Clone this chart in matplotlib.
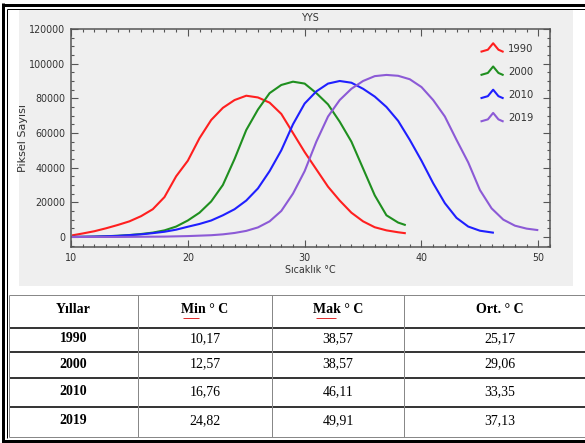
import matplotlib
matplotlib.use('Agg')
import matplotlib.pyplot as plt
from matplotlib.lines import Line2D
from matplotlib.patches import Rectangle
from matplotlib.legend_handler import HandlerBase
from matplotlib.ticker import MultipleLocator
from matplotlib import font_manager

# curves (temperature in C, pixel count)
t_1990 = [10.17, 11, 12, 13, 14, 15, 16, 17, 18, 19, 20, 21, 22, 23, 24, 25, 26, 27, 28, 29,
          30, 31, 32, 33, 34, 35, 36, 37, 38, 38.57]
v_1990 = [1000, 2000, 3300, 5000, 6900, 9000, 12000, 16000, 23000, 35000, 44000, 57000, 67500,
          74500, 79000, 81500, 80500, 77500, 71000, 60000, 49000, 39000, 29000, 21000, 14000,
          9000, 5600, 3800, 2700, 2200]

t_2000 = [10, 12, 13, 14, 15, 16, 17, 18, 19, 20, 21, 22, 23, 24, 25, 26, 27, 28, 29, 30,
          31, 32, 33, 34, 35, 36, 37, 38, 38.57]
v_2000 = [0, 200, 400, 700, 1100, 1700, 2500, 3800, 6000, 9500, 14000, 20500, 30000, 45000,
          61700, 73500, 83000, 87700, 89600, 88500, 83000, 76500, 66500, 55000, 39500, 24000,
          12500, 8300, 7000]

t_2010 = [10, 12, 14, 16, 17, 18, 19, 20, 21, 22, 23, 24, 25, 26, 27, 28, 29, 30, 31, 32,
          33, 34, 35, 36, 37, 38, 39, 40, 41, 42, 43, 44, 45, 46.11]
v_2010 = [0, 200, 600, 1500, 2200, 3000, 4200, 5900, 7500, 9500, 12500, 16000, 21000, 28000,
          38000, 50000, 65000, 77000, 84000, 88500, 90000, 89000, 85500, 81000, 75000, 67000,
          56000, 44000, 31000, 19500, 11000, 6000, 3600, 2500]

t_2019 = [10, 14, 18, 20, 22, 23, 24, 25, 26, 27, 28, 29, 30, 31, 32, 33, 34, 35, 36, 37,
          38, 39, 40, 41, 42, 43, 44, 45, 46, 47, 48, 49, 49.91]
v_2019 = [0, 0, 200, 500, 1000, 1500, 2300, 3500, 5500, 9000, 15000, 25000, 38000, 55000,
          69500, 79000, 85500, 90000, 92800, 93500, 93000, 91000, 86500, 79000, 69500, 56000,
          43000, 27100, 16500, 10000, 6500, 4800, 4000]

years = ['1990', '2000', '2010', '2019']
colors = ['#ff1f1f', '#1f8f1f', '#1f1fff', '#8c5ad6']

# table
col_headers = ['Yıllar', 'Min ° C', 'Mak ° C', 'Ort. ° C']
min_c = ['10,17', '12,57', '16,76', '24,82']
mak_c = ['38,57', '38,57', '46,11', '49,91']
ort_c = ['25,17', '29,06', '33,35', '37,13']

W, H = 585, 443
def fx(px):
    return px / W
def fy(py):
    return 1 - py / H

# pick a narrow sans if there is one
fl = font_manager.fontManager.ttflist
names = {f.name for f in fl}
stretch = 'normal'
if 'Liberation Sans Narrow' in names:
    sans = ['Liberation Sans Narrow', 'DejaVu Sans']
    tsize = 7.8
elif any(f.name == 'DejaVu Sans' and f.stretch in ('condensed', 'semi-condensed') for f in fl):
    sans = ['DejaVu Sans']
    stretch = 'condensed'
    tsize = 7.7
else:
    sans = ['Liberation Sans', 'DejaVu Sans']
    tsize = 7
serif = ['Liberation Serif', 'DejaVu Serif']

fig = plt.figure(figsize=(W / 100, H / 100), dpi=100)
fig.patches.append(Rectangle((fx(19), fy(286)), (573 - 19) / W, (286 - 10) / H,
                             transform=fig.transFigure, facecolor='#efefef',
                             edgecolor='none', zorder=-5))

ax = fig.add_axes([fx(71), fy(247), (550 - 71) / W, (247 - 29) / H])
ax.set_zorder(2)
ax.set_facecolor('#efefef')

series = [(t_1990, v_1990), (t_2000, v_2000), (t_2010, v_2010), (t_2019, v_2019)]
handles = []
for (t, v), yr, c in zip(series, years, colors):
    ln, = ax.plot(t, v, color=c, lw=1.5, label=yr)
    handles.append(ln)

ax.set_xlim(10, 51)
ax.set_ylim(-5800, 120000)
ax.xaxis.set_major_locator(MultipleLocator(10))
ax.xaxis.set_minor_locator(MultipleLocator(1))
ax.yaxis.set_major_locator(MultipleLocator(20000))
ax.yaxis.set_minor_locator(MultipleLocator(5000))
ax.tick_params(which='both', direction='in', top=True, right=True, color='#555',
               labelcolor='#333', labelsize=tsize, width=0.8, pad=4)
ax.tick_params(which='major', length=5)
ax.tick_params(which='minor', length=2.5)
for lab in ax.get_xticklabels() + ax.get_yticklabels():
    lab.set_family(sans)
    lab.set_fontstretch(stretch)
for s in ax.spines.values():
    s.set_color('#555')
    s.set_linewidth(1.1)

ax.set_title('YYS', fontsize=tsize, color='#333', pad=6, family=sans,
             fontstretch=stretch)
ax.set_xlabel('Sıcaklık °C', fontsize=tsize, color='#333', labelpad=2, family=sans,
              fontstretch=stretch)
ax.set_ylabel('Piksel Sayısı', fontsize=8, color='#333', labelpad=1, family='DejaVu Sans')


class CaretHandler(HandlerBase):
    def create_artists(self, legend, orig_handle, xdescent, ydescent, width, height,
                       fontsize, trans):
        xs = [0, 0.3, 0.55, 0.8, 1.0]
        ys = [0.1, 0.3, 1.0, 0.3, 0.1]
        line = Line2D([x * width - xdescent for x in xs],
                      [y * height - ydescent for y in ys],
                      color=orig_handle.get_color(), lw=1.5)
        line.set_transform(trans)
        return [line]


leg = ax.legend(handles=handles, loc='upper right', bbox_to_anchor=(0.975, 0.955),
                borderaxespad=0, frameon=False, handler_map={Line2D: CaretHandler()},
                handlelength=1.9, handleheight=0.9, handletextpad=0.5, labelspacing=1.15,
                prop={'family': sans, 'size': tsize + 0.3, 'stretch': stretch})
for txt in leg.get_texts():
    txt.set_color('#333')

# outer frame
def hline(y, x0, x1, lw, color):
    fig.add_artist(Line2D([fx(x0), fx(x1)], [fy(y), fy(y)], transform=fig.transFigure,
                          color=color, lw=lw * 0.72, solid_capstyle='butt'))
def vline(x, y0, y1, lw, color):
    fig.add_artist(Line2D([fx(x), fx(x)], [fy(y0), fy(y1)], transform=fig.transFigure,
                          color=color, lw=lw * 0.72, solid_capstyle='butt'))

hline(4.5, 1.5, 585, 3, 'black')
hline(9, 6.5, 585, 1, 'black')
hline(441, 1.5, 585, 3, 'black')
vline(3, 3, 442.5, 3, 'black')
vline(7, 8.5, 438, 1, 'black')

# table grid
row_y = [295, 328, 352, 378, 407, 437]
col_x = [9, 138, 272, 404]
hline(row_y[0], 9, 585, 1, '#888')
for y in row_y[1:-1]:
    hline(y, 9, 585, 1.8, '#222')
hline(row_y[-1], 9, 585, 1, '#888')
for x in col_x:
    vline(x, row_y[0], row_y[-1], 1, '#888')

centers = [73.5, 205, 338, 500]
hy = (row_y[0] + row_y[1]) / 2 - 2
for cx, h in zip(centers, col_headers):
    fig.text(fx(cx), fy(hy), h, ha='center', va='center', fontsize=10,
             fontweight='bold', family=serif)
# spell-check squiggles under Min / Mak
hline(hy + 8, 183, 199, 1, '#e03030')
hline(hy + 8, 316, 336, 1, '#e03030')

for i in range(4):
    cy = (row_y[i + 1] + row_y[i + 2]) / 2 - 1
    row = [years[i], min_c[i], mak_c[i], ort_c[i]]
    for j, (cx, s) in enumerate(zip(centers, row)):
        fig.text(fx(cx), fy(cy), s, ha='center', va='center', fontsize=10,
                 fontweight='bold' if j == 0 else 'normal', family=serif)

fig.savefig('out.png', dpi=100)
